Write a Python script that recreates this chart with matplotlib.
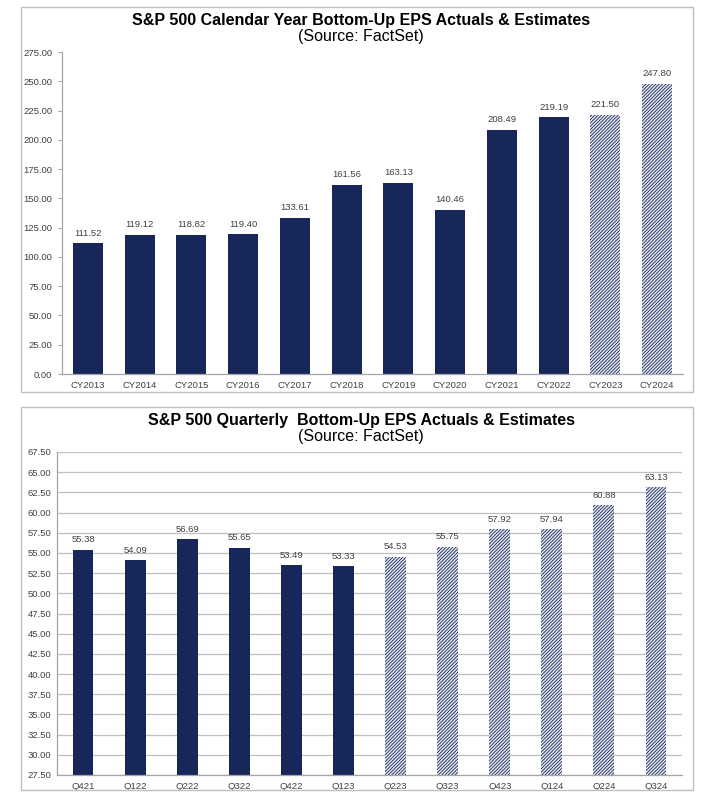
import matplotlib.pyplot as plt
from matplotlib.patches import Rectangle
import numpy as np

plt.rcParams['font.family'] = ['Liberation Sans', 'DejaVu Sans']
plt.rcParams['hatch.linewidth'] = 0.6

# annual data
years = ['CY2013', 'CY2014', 'CY2015', 'CY2016', 'CY2017', 'CY2018',
         'CY2019', 'CY2020', 'CY2021', 'CY2022', 'CY2023', 'CY2024']
annual_eps = [111.52, 119.12, 118.82, 119.40, 133.61, 161.56,
              163.13, 140.46, 208.49, 219.19, 221.50, 247.80]
annual_is_est = [False] * 10 + [True] * 2

# quarterly data
quarters = ['Q421', 'Q122', 'Q222', 'Q322', 'Q422', 'Q123',
            'Q223', 'Q323', 'Q423', 'Q124', 'Q224', 'Q324']
quarter_eps = [55.38, 54.09, 56.69, 55.65, 53.49, 53.33,
               54.53, 55.75, 57.92, 57.94, 60.88, 63.13]
quarter_is_est = [False] * 6 + [True] * 6

navy = '#17275a'
axis_gray = '#a6a6a6'
text_gray = '#404040'

W, H = 712, 792
fig = plt.figure(figsize=(W / 100, H / 100), dpi=100)


def fx(px):
    return px / W


def fy(py):
    return 1 - py / H


def add_panel(top, bottom):
    fig.patches.append(Rectangle((fx(21), fy(bottom)), fx(693 - 21), (bottom - top) / H,
                                 transform=fig.transFigure, fill=False,
                                 edgecolor='#bfbfbf', linewidth=1.0))


def draw_bars(ax, labels, values, is_est, width):
    x = np.arange(len(labels))
    for i, (v, est) in enumerate(zip(values, is_est)):
        if est:
            ax.bar(x[i], v, width=width, color='#e4e7ee', edgecolor=navy,
                   hatch='//////////', linewidth=0)
        else:
            ax.bar(x[i], v, width=width, color=navy, linewidth=0)
        ax.annotate(f'{v:.2f}', (x[i], v), xytext=(0, 4), textcoords='offset points',
                    ha='center', va='bottom', fontsize=6.8, color=text_gray)
    ax.set_xticks(x)
    ax.set_xticklabels(labels, fontsize=6.8, color=text_gray)
    ax.set_xlim(-0.5, len(labels) - 0.5)
    ax.tick_params(axis='x', length=0, pad=5)
    ax.tick_params(axis='y', labelsize=6.8, labelcolor=text_gray, length=3,
                   color=axis_gray, pad=4)
    for s in ['top', 'right']:
        ax.spines[s].set_visible(False)
    for s in ['left', 'bottom']:
        ax.spines[s].set_color(axis_gray)
        ax.spines[s].set_linewidth(0.9)


title_x = fx(361)

# top panel
add_panel(7, 392)
ax1 = fig.add_axes([fx(62), fy(374), fx(683 - 62), (374 - 52) / H])
draw_bars(ax1, years, annual_eps, annual_is_est, 0.58)
ax1.set_ylim(0, 275)
ax1.set_yticks(np.arange(0, 276, 25))
ax1.yaxis.set_major_formatter(plt.FormatStrFormatter('%.2f'))
fig.text(title_x, fy(21), 'S&P 500 Calendar Year Bottom-Up EPS Actuals & Estimates',
         ha='center', va='center', fontsize=11.5, fontweight='bold', color='black')
fig.text(title_x, fy(37), '(Source: FactSet)', ha='center', va='center',
         fontsize=11.5, color='black')

# bottom panel
add_panel(407, 790)
ax2 = fig.add_axes([fx(57), fy(775), fx(682 - 57), (775 - 452) / H])
draw_bars(ax2, quarters, quarter_eps, quarter_is_est, 0.4)
ax2.set_ylim(27.5, 67.5)
ax2.set_yticks(np.arange(27.5, 67.6, 2.5))
ax2.yaxis.set_major_formatter(plt.FormatStrFormatter('%.2f'))
ax2.grid(axis='y', color='#bfbfbf', linewidth=0.9)
ax2.set_axisbelow(True)
ax2.tick_params(axis='y', length=0)
fig.text(title_x, fy(421), 'S&P 500 Quarterly  Bottom-Up EPS Actuals & Estimates',
         ha='center', va='center', fontsize=11.5, fontweight='bold', color='black')
fig.text(title_x, fy(436), '(Source: FactSet)', ha='center', va='center',
         fontsize=11.5, color='black')

plt.savefig('out.png', dpi=100)
